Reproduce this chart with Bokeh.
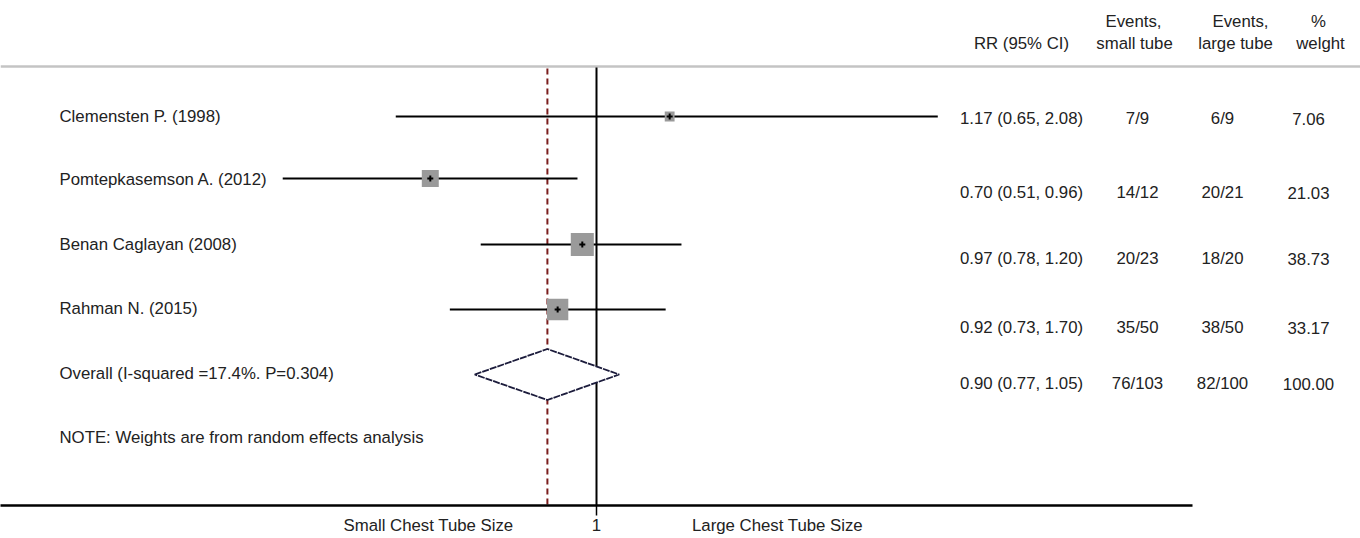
import math
from bokeh.plotting import figure
from bokeh.models import Range1d, LogScale, LogAxis, FixedTicker, ColumnDataSource, BasicTickFormatter
from bokeh.core.properties import value
from bokeh.embed import file_html
from bokeh.resources import INLINE

# ---------------- data ----------------
studies = ["Clemensten  P. (1998)", "Pomtepkasemson A. (2012)",
           "Benan Caglayan (2008)", "Rahman N. (2015)"]
rr = [1.17, 0.70, 0.97, 0.92]
ci_low = [0.65, 0.51, 0.78, 0.73]
ci_high = [2.08, 0.96, 1.20, 1.70]          # as printed
ci_high_drawn = [2.08, 0.96, 1.20, 1.16]    # as drawn in the picture
events_small = ["7/9", "14/12", "20/23", "35/50"]
events_large = ["6/9", "20/21", "18/20", "38/50"]
weights = [7.06, 21.03, 38.73, 33.17]

overall_label = "Overall (I-squared =17.4%. P=0.304)"
overall_rr = 0.90
overall_low = 0.77
overall_high = 1.05
overall_small = "76/103"
overall_large = "82/100"
overall_weight = 100.00
null_value = 1

note = "NOTE: Weights are from random effects analysis"
header_rr = "RR (95% CI)"
header_small = ["Events,", "small tube"]
header_large = ["Events,", "large tube"]
header_weight = ["%", "welght"]
left_axis_text = "Small Chest Tube Size"
right_axis_text = "Large Chest Tube Size"

# ---------------- layout ----------------
FONT = value("Liberation Sans")
FS = "16.8px"
TXT = "#222222"
W, H = 1360, 505
px_per_ln = 466.0
x_one = 596.0
rr_lo_range = math.exp((0 - x_one) / px_per_ln)
rr_hi_range = math.exp((W - x_one) / px_per_ln)
x_small_text = round(math.exp((428 - x_one) / px_per_ln), 4)
x_large_text = round(math.exp((777 - x_one) / px_per_ln), 4)

line_y = [116, 178, 244, 309]
label_y = [116, 179, 244, 308]
col_y = [118, 192, 258, 327]
overall_line_y, overall_half_h = 374, 25.5
overall_label_y, overall_col_y = 373, 383
note_y = 437
x_label = 59
x_rr_col, x_small_col, x_large_col, x_w_col = 1021, 1137, 1222, 1308
header_y = [21, 43]
gray_y = 66

p = figure(x_range=Range1d(0, W), y_range=Range1d(H, 0),
           frame_width=W, frame_height=H, min_border=0,
           toolbar_location=None, output_backend="svg",
           x_axis_location=None, y_axis_location=None,
           outline_line_color=None, background_fill_color="white")
p.extra_x_ranges = {"rr": Range1d(rr_lo_range, rr_hi_range)}
p.extra_x_scales = {"rr": LogScale()}
for g in p.grid:
    g.visible = False

ax = LogAxis(x_range_name="rr",
             ticker=FixedTicker(ticks=[x_small_text, null_value, x_large_text],
                                minor_ticks=[null_value]),
             formatter=BasicTickFormatter(),
             bounds=(rr_lo_range, 1.0 / rr_lo_range))
ax.major_label_overrides = {x_small_text: left_axis_text, null_value: "1",
                            x_large_text: right_axis_text}
ax.axis_line_width = 2.5
ax.axis_line_color = "black"
ax.major_tick_out = 0
ax.major_tick_in = 0
ax.major_tick_line_color = None
ax.minor_tick_out = 10
ax.minor_tick_in = 0
ax.minor_tick_line_width = 1.5
ax.minor_tick_line_color = "black"
ax.major_label_standoff = 0
ax.major_label_text_font = "Liberation Sans"
ax.major_label_text_font_size = FS
ax.major_label_text_color = TXT
p.add_layout(ax, "below")

# header rule
p.segment(x0=[0], y0=[gray_y], x1=[W], y1=[gray_y], line_color="#c4c4c4", line_width=2.5)

# reference lines
p.segment(x0=[null_value], y0=[gray_y + 1], x1=[null_value], y1=[H],
          line_color="black", line_width=2, x_range_name="rr")
p.segment(x0=[overall_rr], y0=[gray_y + 2], x1=[overall_rr], y1=[H],
          line_color="#7a1c1c", line_width=2, line_dash="6 4", x_range_name="rr")

# study CIs, squares, points
src = ColumnDataSource(dict(rr=rr, lo=ci_low, hi=ci_high_drawn, y=line_y,
                            size=[3.7 * math.sqrt(w) for w in weights]))
p.segment(x0="lo", y0="y", x1="hi", y1="y", source=src, line_color="black",
          line_width=2, x_range_name="rr")
p.scatter(x="rr", y="y", size="size", marker="square", source=src,
          fill_color="#9a9a9a", line_color=None, x_range_name="rr")
p.scatter(x="rr", y="y", size=6, marker="cross", source=src,
          line_color="black", line_width=2, x_range_name="rr")

# overall diamond
p.patch(x=[overall_low, overall_rr, overall_high, overall_rr],
        y=[overall_line_y, overall_line_y - overall_half_h, overall_line_y, overall_line_y + overall_half_h],
        fill_color="white", line_color="#1c1c3c", line_width=1.8, line_dash="7 1",
        x_range_name="rr")

# left labels
p.text(x=[x_label] * 6, y=label_y + [overall_label_y, note_y],
       text=studies + [overall_label, note], text_font=FONT, text_font_size=FS,
       text_color=TXT, text_align="left", text_baseline="middle")

# table columns
rr_txt = [f"{a:.2f} ({b:.2f}, {c:.2f})" for a, b, c in zip(rr, ci_low, ci_high)]
rr_txt.append(f"{overall_rr:.2f} ({overall_low:.2f}, {overall_high:.2f})")
w_txt = [f"{w:.2f}" for w in weights] + [f"{overall_weight:.2f}"]
ys = col_y + [overall_col_y]
for xc, texts in [(x_rr_col, rr_txt), (x_small_col, events_small + [overall_small]),
                  (x_large_col, events_large + [overall_large]), (x_w_col, w_txt)]:
    p.text(x=[xc] * len(texts), y=ys, text=texts, text_font=FONT, text_font_size=FS,
           text_color=TXT, text_align="center", text_baseline="middle")

# headers
p.text(x=[x_rr_col, 1133, 1134, 1240, 1235, 1318, 1320],
       y=[header_y[1], header_y[0], header_y[1], header_y[0], header_y[1], header_y[0], header_y[1]],
       text=[header_rr, header_small[0], header_small[1], header_large[0], header_large[1],
             header_weight[0], header_weight[1]],
       text_font=FONT, text_font_size=FS, text_color=TXT,
       text_align="center", text_baseline="middle")

open("out.html", "w").write(file_html(p, INLINE))
